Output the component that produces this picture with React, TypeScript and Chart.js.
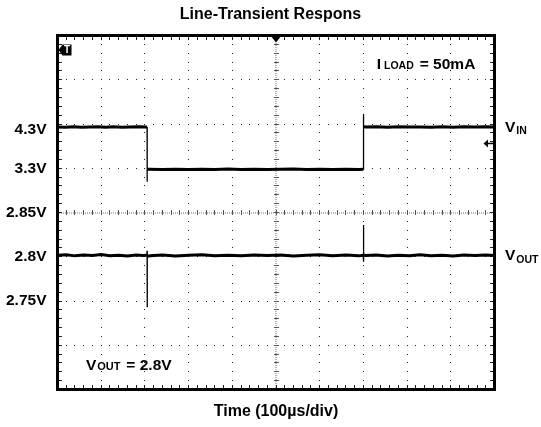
import React, { useEffect, useRef } from 'react';
import { Chart, registerables } from 'chart.js';

Chart.register(...registerables);

const FONT = "'Liberation Sans', Arial, Helvetica, sans-serif";

// ---- text ----
const chartTitle = 'Line-Transient Respons';
const xAxisTitle = 'Time (100µs/div)';
const vinLabel = ['V', 'IN'];
const voutLabel = ['V', 'OUT'];
const loadNote = ['I', 'LOAD', '= 50mA'];
const voutNote = ['V', 'OUT', '= 2.8V'];

// ---- graticule ----
const usPerDiv = 100;
const xDivs = 10;
const yDivs = 8;

// y tick labels and the screen division they sit on
const yTickLabels = ['4.3V', '3.3V', '2.85V', '2.8V', '2.75V'];
const yTickDivs = [5.88, 5, 4, 3, 2];

// channel scaling (volts -> divisions)
const vinVoltsPerDiv = 1;
const vinRefVolts = 4.3;
const vinRefDiv = 6;
const voutVoltsPerDiv = 0.05;
const voutRefVolts = 2.8;
const voutRefDiv = 3;

const triggerLevelVinVolts = 3.86;

// ---- VIN trace (CH1) ----
const vinTimeUs = [
  0, 18, 36, 55, 74, 92, 110, 128, 147, 166, 185, 205,
  205, 205.5,
  208, 240, 270, 300, 330, 360, 390, 420, 450, 480, 510, 540, 570, 600, 630, 660, 690, 700,
  700, 700.6,
  705, 730, 755, 780, 805, 830, 855, 880, 905, 930, 955, 980, 1000,
];
const vinVolts = [
  4.235, 4.228, 4.238, 4.226, 4.234, 4.240, 4.229, 4.236, 4.225, 4.233, 4.238, 4.232,
  2.996, 3.285,
  3.276, 3.270, 3.280, 3.273, 3.278, 3.270, 3.282, 3.274, 3.279, 3.271, 3.277, 3.283, 3.272, 3.278, 3.274, 3.280, 3.272, 3.276,
  4.526, 4.240,
  4.232, 4.236, 4.228, 4.238, 4.230, 4.235, 4.226, 4.240, 4.229, 4.236, 4.231, 4.238, 4.233,
];

// ---- VOUT trace (CH2) ----
const voutTimeUs = [
  0, 20, 40, 60, 80, 100, 120, 140, 160, 180, 195, 204.6,
  205, 205.2, 205.6,
  212, 240, 270, 300, 330, 360, 390, 420, 450, 480, 510, 540, 570, 600, 630, 660, 690, 699.6,
  700, 700.3, 701,
  706, 730, 755, 780, 805, 830, 855, 880, 905, 930, 955, 980, 1000,
];
const voutVolts = [
  2.8016, 2.8022, 2.8010, 2.8019, 2.8013, 2.8024, 2.8011, 2.8018, 2.8008, 2.8021, 2.8014, 2.8016,
  2.8068, 2.7429, 2.8005,
  2.8012, 2.8020, 2.8009, 2.8017, 2.8023, 2.8011, 2.8018, 2.8010, 2.8021, 2.8014, 2.8019, 2.8008, 2.8016, 2.8022, 2.8012, 2.8019, 2.8010, 2.8016,
  2.8359, 2.7944, 2.8016,
  2.8015, 2.8021, 2.8009, 2.8018, 2.8012, 2.8023, 2.8011, 2.8017, 2.8009, 2.8020, 2.8014, 2.8019, 2.8015,
];

const vinToDiv = (v: number) => (v - vinRefVolts) / vinVoltsPerDiv + vinRefDiv;
const voutToDiv = (v: number) => (v - voutRefVolts) / voutVoltsPerDiv + voutRefDiv;

const steepWidth = (ctx: any) =>
  Math.abs(ctx.p1.parsed.x - ctx.p0.parsed.x) < 1 ? 1.3 : 3;

const font = (size: number) => `bold ${size}px ${FONT}`;

const graticulePlugin = {
  id: 'graticule',
  beforeDatasetsDraw(chart: any) {
    const { ctx, chartArea: a, scales } = chart;
    const xs = scales.x;
    const ys = scales.y;
    const px = (d: number) => xs.getPixelForValue(d * usPerDiv);
    const py = (d: number) => ys.getPixelForValue(d);
    const dot = (x: number, y: number, w: number, h: number, c: string) => {
      ctx.fillStyle = c;
      ctx.fillRect(Math.round(x - w / 2), Math.round(y - h / 2), w, h);
    };
    ctx.save();
    for (let k = 1; k < xDivs; k++) {
      if (k === xDivs / 2) continue;
      for (let j = 1; j < yDivs * 5; j++) dot(px(k), py(j / 5), 1, 1, '#222');
    }
    for (let k = 1; k < yDivs; k++) {
      if (k === yDivs / 2) continue;
      for (let j = 1; j < xDivs * 5; j++) dot(px(j / 5), py(k), 1, 1, '#222');
    }
    const cx = px(xDivs / 2);
    const cy = py(yDivs / 2);
    for (let y = a.top; y < a.bottom; y += 2) dot(cx, y, 2, 1, '#b8b8b8');
    for (let x = a.left; x < a.right; x += 2) dot(x, cy, 1, 2, '#b8b8b8');
    for (let j = 1; j < yDivs * 5; j++) dot(cx, py(j / 5), 5, 1, '#555');
    for (let j = 1; j < xDivs * 5; j++) dot(px(j / 5), cy, 1, 5, '#555');
    for (let j = 1; j < xDivs * 5; j++) {
      dot(px(j / 5), a.top + 3, 1, 3, '#222');
      dot(px(j / 5), a.bottom - 3, 1, 3, '#222');
    }
    for (let j = 1; j < yDivs * 5; j++) {
      dot(a.left + 3, py(j / 5), 3, 1, '#222');
      dot(a.right - 3, py(j / 5), 3, 1, '#222');
    }
    ctx.restore();
  },
};

const overlayPlugin = {
  id: 'overlay',
  afterDatasetsDraw(chart: any) {
    const { ctx, chartArea: a, scales } = chart;
    const xs = scales.x;
    const ys = scales.y;
    ctx.save();
    // frame
    ctx.strokeStyle = '#000';
    ctx.lineWidth = 3;
    ctx.strokeRect(a.left, a.top, a.right - a.left, a.bottom - a.top);

    ctx.fillStyle = '#000';
    // trigger position marker (top centre)
    const cx = xs.getPixelForValue((xDivs / 2) * usPerDiv);
    ctx.beginPath();
    ctx.moveTo(cx - 5.5, a.top);
    ctx.lineTo(cx + 5.5, a.top);
    ctx.lineTo(cx, a.top + 7);
    ctx.closePath();
    ctx.fill();

    // trigger flag (top left)
    const fy = a.top + 14.5;
    ctx.beginPath();
    ctx.moveTo(a.left + 1, fy);
    ctx.lineTo(a.left + 5, fy - 5.5);
    ctx.lineTo(a.left + 14, fy - 5.5);
    ctx.lineTo(a.left + 14, fy + 5.5);
    ctx.lineTo(a.left + 5, fy + 5.5);
    ctx.closePath();
    ctx.fill();
    ctx.fillStyle = '#fff';
    ctx.font = font(10);
    ctx.textAlign = 'center';
    ctx.textBaseline = 'middle';
    ctx.fillText('T', a.left + 9.5, fy + 0.5);

    // trigger level arrow (right)
    const ty = ys.getPixelForValue(vinToDiv(triggerLevelVinVolts));
    ctx.fillStyle = '#000';
    ctx.beginPath();
    ctx.moveTo(a.right - 11, ty);
    ctx.lineTo(a.right - 6.5, ty - 4);
    ctx.lineTo(a.right - 6.5, ty + 4);
    ctx.closePath();
    ctx.fill();
    ctx.fillRect(a.right - 7, ty - 0.75, 5.5, 1.5);

    // labels
    ctx.textAlign = 'left';
    ctx.textBaseline = 'alphabetic';
    const subLabel = (parts: string[], x: number, base: number) => {
      ctx.font = font(15.5);
      ctx.fillText(parts[0], x, base);
      const w = ctx.measureText(parts[0]).width;
      ctx.font = font(10.5);
      ctx.fillText(parts[1], x + w + 1, base + 2.5);
    };
    const vinEnd = ys.getPixelForValue(vinToDiv(vinVolts[vinVolts.length - 1]));
    const voutEnd = ys.getPixelForValue(voutToDiv(voutVolts[voutVolts.length - 1]));
    subLabel(vinLabel, a.right + 10.5, vinEnd + 5);
    subLabel(voutLabel, a.right + 10.5, voutEnd + 5);

    const note = (parts: string[], x: number, base: number, smallSize: number) => {
      ctx.font = font(15.5);
      ctx.fillText(parts[0], x, base);
      let cx2 = x + ctx.measureText(parts[0]).width + (parts[0] === 'I' ? 3 : 0.8);
      ctx.font = font(smallSize);
      ctx.fillText(parts[1], cx2, base);
      cx2 += ctx.measureText(parts[1]).width + 6;
      ctx.font = font(15.5);
      ctx.fillText(parts[2], cx2, base);
    };
    note(loadNote, a.right - 117.8, a.top + 33, 10.5);
    note(voutNote, a.left + 28.5, a.bottom - 19.5, 11);
    ctx.restore();
  },
};

export default function App() {
  const canvasRef = useRef<HTMLCanvasElement | null>(null);

  useEffect(() => {
    if (!canvasRef.current) return;
    const vinData = vinTimeUs.map((t, i) => ({ x: t, y: vinToDiv(vinVolts[i]) }));
    const voutData = voutTimeUs.map((t, i) => ({ x: t, y: voutToDiv(voutVolts[i]) }));
    const chart = new Chart(canvasRef.current, {
      type: 'line',
      data: {
        datasets: [
          {
            label: 'VIN',
            data: vinData,
            borderColor: '#000',
            borderWidth: 3,
            pointRadius: 0,
            tension: 0,
            segment: { borderWidth: steepWidth },
          } as any,
          {
            label: 'VOUT',
            data: voutData,
            borderColor: '#000',
            borderWidth: 3,
            pointRadius: 0,
            tension: 0,
            segment: { borderWidth: steepWidth },
          } as any,
        ],
      },
      options: {
        animation: false,
        responsive: true,
        maintainAspectRatio: false,
        events: [],
        layout: { padding: 0 },
        plugins: {
          legend: { display: false },
          tooltip: { enabled: false },
          title: {
            display: true,
            text: chartTitle,
            color: '#000',
            font: { family: FONT, size: 16, weight: 'bold', lineHeight: 1.2 },
            padding: { top: 4.5, bottom: 11.8 },
          },
        },
        scales: {
          x: {
            type: 'linear',
            min: 0,
            max: xDivs * usPerDiv,
            grid: { display: false, drawTicks: false },
            border: { display: false },
            ticks: { display: false },
            title: {
              display: true,
              text: xAxisTitle,
              color: '#000',
              font: { family: FONT, size: 16, weight: 'bold', lineHeight: 1.2 },
              padding: { top: 0, bottom: 5.5 },
            },
            afterFit: (s: any) => {
              s.height = 37.5;
            },
          },
          y: {
            type: 'linear',
            position: 'left',
            min: 0,
            max: yDivs,
            grid: { display: false, drawTicks: false },
            border: { display: false },
            afterBuildTicks: (s: any) => {
              s.ticks = yTickDivs.map((v) => ({ value: v }));
            },
            ticks: {
              autoSkip: false,
              padding: 11,
              color: '#000',
              font: { family: FONT, size: 15.5, weight: 'bold' },
              callback: (_v: any, i: number) => yTickLabels[i],
            },
            afterFit: (s: any) => {
              s.width = 57.5;
            },
          },
          yR: {
            type: 'linear',
            position: 'right',
            min: 0,
            max: 1,
            grid: { display: false, drawTicks: false },
            border: { display: false },
            ticks: { display: false },
            afterFit: (s: any) => {
              s.width = 46.5;
            },
          },
        },
      } as any,
      plugins: [graticulePlugin, overlayPlugin],
    });
    return () => chart.destroy();
  }, []);

  return (
    <div style={{ position: 'absolute', left: 0, top: 0, width: 541, height: 427, background: '#fff' }}>
      <canvas ref={canvasRef} />
    </div>
  );
}
